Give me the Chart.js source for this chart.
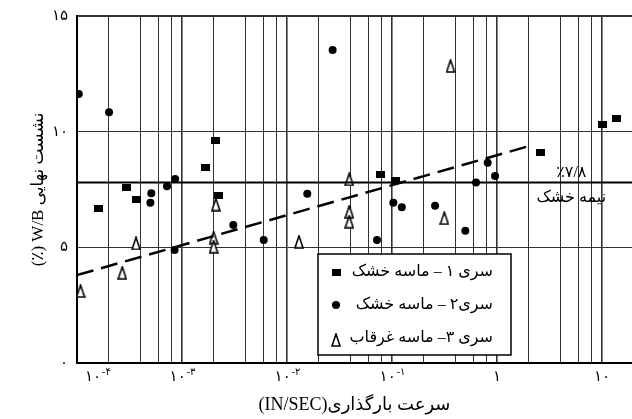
<!DOCTYPE html>
<html>
<head>
<meta charset="utf-8">
<script src="https://cdn.jsdelivr.net/npm/chart.js@4.4.0/dist/chart.umd.min.js"></script>
<style>
    body { margin: 0; background: #fff; }
</style>
</head>
<body>
<canvas id="chart" width="632" height="419"></canvas>
<script>
// axis ranges and ticks
const xMin = 1e-4, xMax = 19.3;
const decades = [1e-4, 1e-3, 1e-2, 1e-1, 1, 10];
const gridSteps = [1, 2, 4, 6, 8];
const xTickBase = ['۱۰', '۱۰', '۱۰', '۱۰', '۱', '۱۰'];
const xTickExp = ['-۴', '-۳', '-۲', '-۱', '', ''];
const yTicks = [0, 5, 10, 15];
const yTickLabels = ['۰', '۵', '۱۰', '۱۵'];

// series 1 - dry sand (squares)
const s1X = [1.6e-4, 2.97e-4, 3.65e-4, 1.68e-3, 2.09e-3, 2.25e-3, 0.078, 0.109, 2.6, 10, 13.7];
const s1Y = [6.67, 7.6, 7.06, 8.43, 9.61, 7.23, 8.17, 7.87, 9.1, 10.33, 10.59];

// series 2 - dry sand (circles)
const s2X = [1.04e-4, 2.02e-4, 5.0e-4, 5.1e-4, 7.2e-4, 8.6e-4, 8.5e-4, 3.08e-3, 6.0e-3, 0.0156,
             0.0272, 0.072, 0.103, 0.124, 0.257, 0.499, 0.631, 0.815, 0.957];
const s2Y = [11.63, 10.84, 6.93, 7.34, 7.64, 7.95, 4.89, 5.97, 5.32, 7.32,
             13.53, 5.32, 6.93, 6.73, 6.8, 5.72, 7.8, 8.66, 8.08];

// series 3 - submerged sand (open triangles)
const s3X = [1.08e-4, 2.7e-4, 3.65e-4, 2.1e-3, 2.0e-3, 2.0e-3, 0.013, 0.0392, 0.0392, 0.0392, 0.315, 0.361];
const s3Y = [3.11, 3.9, 5.17, 6.85, 5.42, 5.03, 5.24, 7.94, 6.54, 6.11, 6.26, 12.84];

// dashed trend line and semi-dry reference level
const trendX = [1e-4, 2.1];
const trendY = [3.8, 9.4];
const semiDry = 7.8;
const semiDryLabelX = 5.1;
const semiDryTop = '٪۷/۸';
const semiDryBottom = 'نیمه خشک';

const legendLabels = ['سری ۱ – ماسه خشک', 'سری۲ – ماسه خشک', 'سری ۳– ماسه غرقاب'];

const serif = "'Liberation Serif', 'DejaVu Sans', serif";
const toPoints = (xs, ys) => xs.map((x, i) => ({ x, y: ys[i] }));

// marker images
function makeSquare() {
    const c = document.createElement('canvas');
    c.width = 9; c.height = 7;
    const g = c.getContext('2d');
    g.fillStyle = '#000';
    g.fillRect(0, 0, 9, 7);
    return c;
}
function makeTriangle() {
    const c = document.createElement('canvas');
    c.width = 10; c.height = 14;
    const g = c.getContext('2d');
    g.beginPath();
    g.moveTo(5, 1);
    g.lineTo(9, 13);
    g.lineTo(1, 13);
    g.closePath();
    g.fillStyle = '#fff';
    g.fill();
    g.lineWidth = 1.6;
    g.strokeStyle = '#000';
    g.stroke();
    return c;
}
const squareImg = makeSquare();
const triangleImg = makeTriangle();

// decade labels with superscript exponents
const xLabelPlugin = {
    id: 'xLabels',
    afterDraw(chart) {
        const { ctx, chartArea, scales: { x } } = chart;
        ctx.save();
        ctx.fillStyle = '#000';
        ctx.textBaseline = 'middle';
        ctx.textAlign = 'left';
        ctx.direction = 'ltr';
        decades.forEach((d, i) => {
            const px = x.getPixelForValue(d);
            ctx.font = '15px ' + serif;
            const wb = ctx.measureText(xTickBase[i]).width;
            ctx.font = '10px ' + serif;
            const we = ctx.measureText(xTickExp[i]).width;
            const left = Math.max(px - (wb + we) / 2, chartArea.left + 8);
            const y = chartArea.bottom + 14;
            ctx.font = '15px ' + serif;
            ctx.fillText(xTickBase[i], left, y);
            ctx.font = '10px ' + serif;
            ctx.fillText(xTickExp[i], left + wb + 1, y - 5);
        });
        ctx.restore();
    }
};

// semi-dry label and boxed legend inside the plot
const annotatePlugin = {
    id: 'annotate',
    afterDatasetsDraw(chart) {
        const { ctx, scales: { x, y } } = chart;
        ctx.save();
        ctx.fillStyle = '#000';
        ctx.textAlign = 'center';
        ctx.textBaseline = 'middle';
        ctx.font = '16px ' + serif;
        const lx = x.getPixelForValue(semiDryLabelX);
        const ly = y.getPixelForValue(semiDry);
        ctx.direction = 'ltr';
        ctx.fillText(semiDryTop, lx, ly - 10);
        ctx.direction = 'rtl';
        ctx.fillText(semiDryBottom, lx, ly + 15);

        // legend box
        const bx = 318, by = 254, bw = 193, bh = 101;
        ctx.fillStyle = '#fff';
        ctx.fillRect(bx, by, bw, bh);
        ctx.lineWidth = 1.5;
        ctx.strokeStyle = '#000';
        ctx.strokeRect(bx, by, bw, bh);

        const rows = [272, 305, 338];
        ctx.fillStyle = '#000';
        ctx.font = '16px ' + serif;
        ctx.textAlign = 'right';
        ctx.direction = 'rtl';
        legendLabels.forEach((t, i) => ctx.fillText(t, 493, rows[i]));

        ctx.drawImage(squareImg, 336 - 4.5, rows[0] - 3.5);
        ctx.beginPath();
        ctx.arc(336, rows[1], 4, 0, Math.PI * 2);
        ctx.fill();
        ctx.drawImage(triangleImg, 336 - 5, rows[2] - 5);
        ctx.restore();
    }
};

new Chart(document.getElementById('chart'), {
    type: 'scatter',
    data: {
        datasets: [
            {
                label: 'semi-dry',
                data: [{ x: xMin, y: semiDry }, { x: xMax, y: semiDry }],
                showLine: true,
                borderColor: '#000',
                borderWidth: 2,
                pointRadius: 0
            },
            {
                label: 'trend',
                data: toPoints(trendX, trendY),
                showLine: true,
                borderColor: '#000',
                borderWidth: 2.5,
                borderDash: [17, 8],
                pointRadius: 0
            },
            {
                label: legendLabels[0],
                data: toPoints(s1X, s1Y),
                pointStyle: squareImg,
                pointRadius: 5
            },
            {
                label: legendLabels[1],
                data: toPoints(s2X, s2Y),
                pointStyle: 'circle',
                pointRadius: 4,
                backgroundColor: '#000',
                borderColor: '#000',
                borderWidth: 0
            },
            {
                label: legendLabels[2],
                data: toPoints(s3X, s3Y),
                pointStyle: triangleImg,
                pointRadius: 6
            }
        ]
    },
    options: {
        responsive: false,
        animation: false,
        layout: {
            autoPadding: false,
            padding: { top: 16, right: 0, left: 0, bottom: 0 }
        },
        plugins: {
            legend: { display: false },
            tooltip: { enabled: false }
        },
        scales: {
            x: {
                type: 'logarithmic',
                min: xMin,
                max: xMax,
                afterBuildTicks: s => {
                    const t = [];
                    decades.forEach(d => gridSteps.forEach(m => {
                        if (d * m <= xMax) t.push({ value: d * m });
                    }));
                    s.ticks = t;
                },
                afterFit: s => {
                    s.height = 56;
                    s.paddingLeft = 0;
                    s.paddingRight = 0;
                },
                ticks: { display: false },
                grid: {
                    drawTicks: false,
                    color: '#333',
                    lineWidth: c => decades.includes(c.tick.value) ? 1.6 : 1
                },
                border: { display: true, color: '#000', width: 2 },
                title: {
                    display: true,
                    text: '(IN/SEC)سرعت بارگذاری',
                    color: '#000',
                    font: { family: serif, size: 18 },
                    padding: { top: 0, bottom: 3 }
                }
            },
            y: {
                min: 0,
                max: 15,
                afterBuildTicks: s => { s.ticks = yTicks.map(v => ({ value: v })); },
                afterFit: s => {
                    s.width = 77;
                    s.paddingTop = 0;
                    s.paddingBottom = 0;
                },
                ticks: {
                    padding: 9,
                    color: '#000',
                    font: { family: serif, size: 15 },
                    callback: v => yTickLabels[yTicks.indexOf(v)]
                },
                grid: {
                    drawTicks: false,
                    color: '#333',
                    lineWidth: c => (c.tick.value === 15 || c.tick.value === 0) ? 2 : 1
                },
                border: { display: true, color: '#000', width: 2 },
                title: {
                    display: true,
                    text: '(٪) W/B نشست نهایی',
                    color: '#000',
                    font: { family: serif, size: 17 },
                    padding: { top: 28, bottom: 0 }
                }
            }
        }
    },
    plugins: [xLabelPlugin, annotatePlugin]
});
</script>
</body>
</html>
